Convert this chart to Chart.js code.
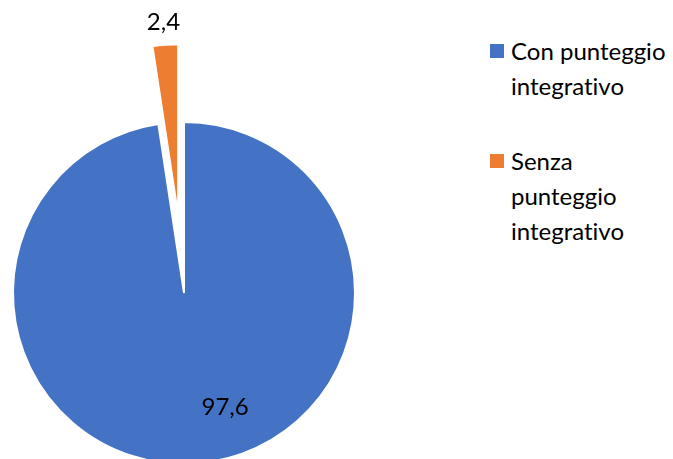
<!DOCTYPE html>
<html>
<head>
<meta charset="utf-8">
<script src="https://cdn.jsdelivr.net/npm/chart.js@4"></script>
<style>
  html, body { margin: 0; padding: 0; background: #fff; overflow: hidden; width: 673px; height: 459px; }
  #wrap { position: absolute; left: 0; top: 0; width: 368px; height: 586px; }
  #legend { position: absolute; left: 490px; top: 33px; width: 180px; font-family: Lato, "Open Sans", sans-serif; font-size: 24px; line-height: 35px; color: #000; font-variant-ligatures: none; }
  .item { position: relative; padding-left: 21px; margin-bottom: 40px; }
  .box { position: absolute; left: 0; top: 11px; width: 14px; height: 14px; }
</style>
</head>
<body>
<div id="wrap"><canvas id="pieCanvas"></canvas></div>
<div id="legend"></div>
<script>
const labels = ["Con punteggio integrativo", "Senza punteggio integrativo"];
const values = [97.6, 2.4];
const colors = ["#4472C4", "#ED7D31"];
const explode = [0, 78];

function fmt(v){
    return v.toFixed(1).replace(".", ",");
}

// pull slices out along their mid angle, keeping the radius
const explodeSlices = {
    id: "explodeSlices",
    afterUpdate(chart){
        chart.getDatasetMeta(0).data.forEach((arc, i) => {
            const mid = (arc.startAngle + arc.endAngle) / 2;
            arc.x += Math.cos(mid) * explode[i];
            arc.y += Math.sin(mid) * explode[i];
        });
    }
};

// value labels: big slice inside, small slice outside beyond its edge
const valueLabels = {
    id: "valueLabels",
    afterDatasetsDraw(chart){
        const ctx = chart.ctx;
        const arcs = chart.getDatasetMeta(0).data;
        ctx.save();
        ctx.font = "24px Lato, 'Open Sans', sans-serif";
        ctx.fillStyle = "#000";
        ctx.textAlign = "center";
        ctx.textBaseline = "middle";
        arcs.forEach((arc, i) => {
            const mid = (arc.startAngle + arc.endAngle) / 2;
            let a = mid, d;
            if (values[i] > 50){
                a = mid - 0.27;
                d = arc.outerRadius * 0.71;
            } else {
                d = arc.outerRadius + 23;
            }
            ctx.fillText(fmt(values[i]), arc.x + Math.cos(a) * d, arc.y + Math.sin(a) * d);
        });
        ctx.restore();
    }
};

function startChart(){
    const ctx = document.getElementById("pieCanvas").getContext("2d");
    new Chart(ctx, {
        type: "pie",
        data: {
            labels: labels,
            datasets: [{
                data: values,
                backgroundColor: colors,
                borderColor: "#fff",
                borderWidth: 2
            }]
        },
        options: {
            responsive: true,
            maintainAspectRatio: false,
            animation: false,
            events: [],
            radius: 171,
            layout: { padding: 0 },
            plugins: {
                legend: { display: false },
                tooltip: { enabled: false }
            }
        },
        plugins: [explodeSlices, valueLabels]
    });

    const legend = document.getElementById("legend");
    labels.forEach((name, i) => {
        const item = document.createElement("div");
        item.className = "item";
        item.innerHTML = '<span class="box" style="background:' + colors[i] + '"></span>' + name;
        legend.appendChild(item);
    });
}

startChart();
</script>
</body>
</html>
